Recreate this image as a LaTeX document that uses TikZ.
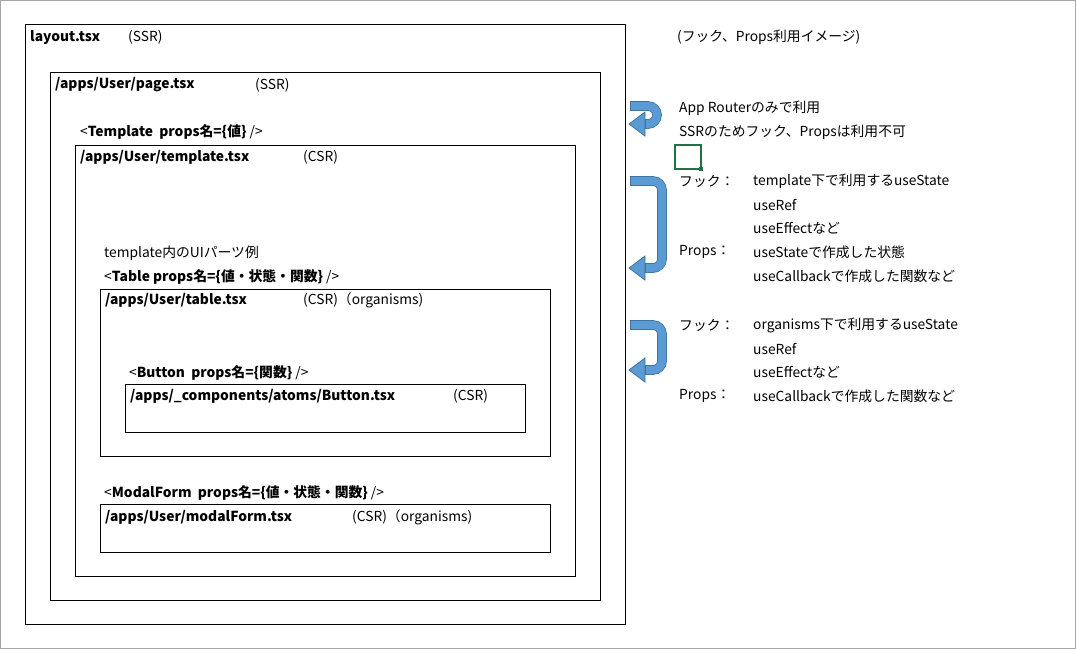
\documentclass[tikz,border=0pt]{standalone}
\usepackage{fontspec}
\setmainfont{Noto Sans CJK JP}
\begin{document}
\begin{tikzpicture}[x=1pt,y=-1pt,
  box/.style={draw=black,line width=0.9pt},
  t/.style={anchor=west,inner sep=0pt,font=\fontsize{13.8}{15}\selectfont},
  arrowshaft/.style={line width=8pt,rounded corners=9pt},
]
\definecolor{ab}{HTML}{5B9BD5}
\definecolor{ao}{HTML}{41719C}
\definecolor{gr}{HTML}{217346}
\useasboundingbox (0,0) rectangle (1076,649);
\draw[gray!70,line width=0.8pt] (0.5,0.5) rectangle (1075.5,648.5);
\draw[box] (25,24) rectangle (625,624);
\draw[box] (50,72) rectangle (600,600);
\draw[box] (75,145) rectangle (575,576);
\draw[box] (100,289) rectangle (550,456);
\draw[box] (125,384) rectangle (525,432);
\draw[box] (100,504) rectangle (550,552);
\draw[gr,line width=1.2pt] (675,145) rectangle (701,169);
\fill[gr] (699,167) rectangle (703,171);
% arrows
\newcommand{\uarr}[3]{%
 \draw[ao,arrowshaft,line width=9.6pt] (630,#1) -- (#3,#1) -- (#3,#2) -- (643,#2);
 \draw[ao,line width=0.8pt,fill=ab] (629,#2) -- (645,#2-12) -- (645,#2+12) -- cycle;
 \draw[ab,arrowshaft] (630.8,#1) -- (#3,#1) -- (#3,#2) -- (646,#2);
}
\uarr{106}{124}{657}
\uarr{181}{268}{662}
\uarr{325}{370}{662}
\node[t] (n1) at (30,37) {\textbf{layout.tsx}};
\node[t] (n2) at (128,37) {(SSR)};
\node[t] (n3) at (677,37) {(フック、Props利用イメージ)};
\node[t] (n4) at (55,85) {\textbf{/apps/User/page.tsx}};
\node[t] (n5) at (255,85) {(SSR)};
\node[t] (n6) at (80,132) {<\textbf{Template\ \ props名=\{値\}} />};
\node[t] (n7) at (80,157) {\textbf{/apps/User/template.tsx}};
\node[t] (n8) at (303,157) {(CSR)};
\node[t] (n9) at (104,253) {template内のUIパーツ例};
\node[t] (n10) at (104,277) {<\textbf{Table props名=\{値・状態・関数\}} />};
\node[t] (n11) at (105,300) {\textbf{/apps/User/table.tsx}};
\node[t] (n12) at (303,300) {(CSR)（organisms)};
\node[t] (n13) at (129,373) {<\textbf{Button\ \ props名=\{関数\}} />};
\node[t] (n14) at (130,396) {\textbf{/apps/\_components/atoms/Button.tsx}};
\node[t] (n15) at (453,396) {(CSR)};
\node[t] (n16) at (104,493) {<\textbf{ModalForm\ \ props名=\{値・状態・関数\}} />};
\node[t] (n17) at (105,517) {\textbf{/apps/User/modalForm.tsx}};
\node[t] (n18) at (352,517) {(CSR)（organisms)};
\node[t] (r1) at (679,108) {App Routerのみで利用};
\node[t] (r2) at (679,132) {SSRのためフック、Propsは利用不可};
\node[t] (r3) at (679,181) {フック：};
\node[t] (r4) at (753,181) {template下で利用するuseState};
\node[t] (r5) at (753,205) {useRef};
\node[t] (r6) at (753,228) {useEffectなど};
\node[t] (r7) at (679,252) {Props：};
\node[t] (r8) at (753,252) {useStateで作成した状態};
\node[t] (r9) at (753,276) {useCallbackで作成した関数など};
\node[t] (r10) at (679,325) {フック：};
\node[t] (r11) at (753,325) {organisms下で利用するuseState};
\node[t] (r12) at (753,349) {useRef};
\node[t] (r13) at (753,372) {useEffectなど};
\node[t] (r14) at (679,396) {Props：};
\node[t] (r15) at (753,396) {useCallbackで作成した関数など};
\end{tikzpicture}
\end{document}
